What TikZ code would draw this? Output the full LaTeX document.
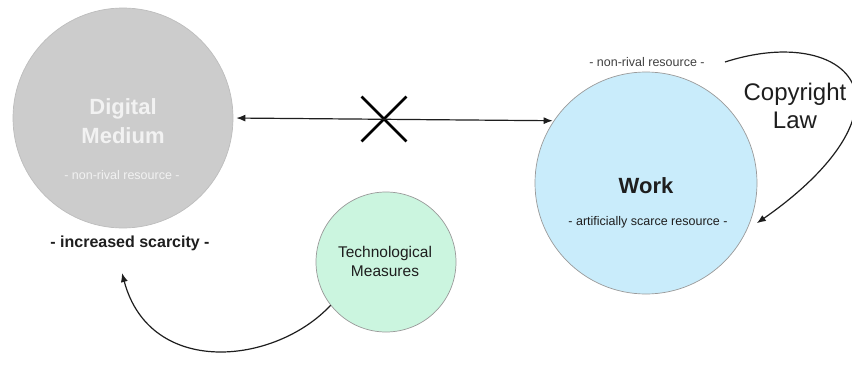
\documentclass[tikz,border=0pt]{standalone}
\usepackage{fontspec}
\setmainfont{Liberation Sans}
\usetikzlibrary{arrows.meta,shapes.misc}
\definecolor{dmfill}{HTML}{CCCCCC}
\definecolor{dmborder}{HTML}{BDBDBD}
\definecolor{wkfill}{HTML}{C9ECFB}
\definecolor{tmfill}{HTML}{CBF5DF}
\definecolor{circborder}{HTML}{9A9A9A}
\definecolor{softwhite}{HTML}{F2F2F2}
\definecolor{txt}{HTML}{1E1E1E}
\begin{document}
\begin{tikzpicture}[x=1pt,y=-1pt,
  circ/.style={circle,inner sep=0pt,draw=circborder,line width=0.7pt},
  smalltxt/.style={font=\fontsize{12.5}{15}\selectfont,inner sep=0pt},
  conn/.style={line width=1.2pt,draw=txt,-{Latex[length=9pt,width=7pt]}},
]
\useasboundingbox[fill=white] (0,0) rectangle (852,367);
% circles
\node[circ,fill=dmfill,draw=dmborder,minimum size=220pt] (dm) at (123,118) {};
\node[circ,fill=wkfill,minimum size=222pt] (work) at (646,183) {};
\node[circ,fill=tmfill,minimum size=140pt] (tm) at (386,262) {};
% texts (anchor=base is the baseline of the last line)
\node[font=\bfseries\fontsize{22}{29}\selectfont,text=softwhite,align=center,anchor=base,inner sep=0pt] (dmt) at (123,143) {Digital\\Medium};
\node[smalltxt,text=softwhite] (dmnr) at (122,175) {- non-rival resource -};
\node[font=\bfseries\fontsize{16}{19}\selectfont,text=txt,inner sep=0pt] (sc) at (130,243) {- increased scarcity -};
\node[font=\bfseries\fontsize{22}{26}\selectfont,text=txt,anchor=base,inner sep=0pt] (wkt) at (646,193) {Work};
\node[smalltxt,text=txt] (wkas) at (648,222) {- artificially scarce resource -};
\node[smalltxt,text=txt!85] (nr) at (647,62) {- non-rival resource -};
\node[font=\fontsize{15.5}{19}\selectfont,text=txt,align=center,anchor=base,inner sep=0pt] (tmt) at (385,276) {Technological\\Measures};
\node[font=\fontsize{24}{28}\selectfont,text=txt,align=center,anchor=base,inner sep=0pt] (cl) at (795,128) {Copyright\\Law};
% cross
\node[cross out,draw=black,line width=2.8pt,minimum size=42pt,inner sep=0pt] (x) at (384,119) {};
% connectors
\draw[conn,{Latex[length=9pt,width=7pt]}-{Latex[length=9pt,width=7pt]},shorten <=3pt,shorten >=1pt] (dm.east) -- (work.146);
\coordinate (clstart) at (725,62);
\draw[conn,shorten >=12pt] (clstart) .. controls (800,38) and (856,60) .. (856,100)
  .. controls (856,140) and (812,185) .. (work.-25);
\coordinate (tip) at (122,273);
\draw[conn] (tm.218) .. controls (275,365) and (150,378) .. (tip);
\end{tikzpicture}
\end{document}
